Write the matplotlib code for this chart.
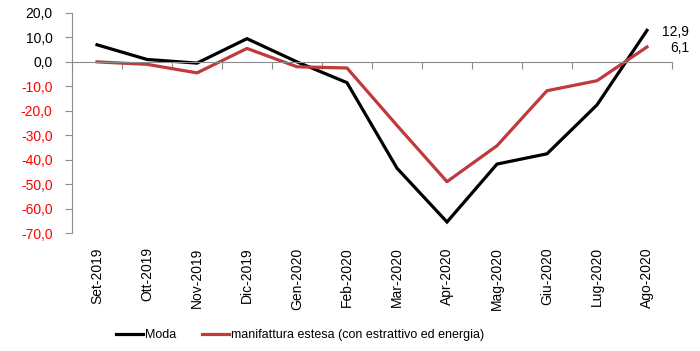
import matplotlib.pyplot as plt
from matplotlib.transforms import blended_transform_factory

plt.rcParams['font.family'] = ['Liberation Sans', 'DejaVu Sans']

mesi = ['Set-2019', 'Ott-2019', 'Nov-2019', 'Dic-2019', 'Gen-2020', 'Feb-2020',
        'Mar-2020', 'Apr-2020', 'Mag-2020', 'Giu-2020', 'Lug-2020', 'Ago-2020']
moda = [7.0, 1.0, -0.5, 9.5, 0.0, -8.5, -43.5, -65.5, -41.8, -37.6, -17.6, 12.9]
manifattura = [0.0, -1.0, -4.5, 5.5, -2.0, -2.5, -26.0, -49.0, -34.3, -11.8, -7.7, 6.1]
yticks = [20, 10, 0, -10, -20, -30, -40, -50, -60, -70]

fig = plt.figure(figsize=(7, 3.51), dpi=100)
ax = fig.add_axes([72 / 700, 1 - 233 / 351, 600 / 700, 220 / 351])

x = list(range(len(mesi)))
ax.plot(x, moda, color='black', lw=2.3, label='Moda', solid_joinstyle='miter')
ax.plot(x, manifattura, color='#C0393B', lw=2.3,
        label='manifattura estesa (con estrattivo ed energia)')

ax.set_xlim(-0.5, len(mesi) - 0.5)
ax.set_ylim(-70, 20)

grey = '#8c8c8c'
for s in ['top', 'right']:
    ax.spines[s].set_visible(False)
ax.spines['left'].set_color(grey)
ax.spines['bottom'].set_color(grey)
ax.spines['bottom'].set_position(('data', 0))

ax.set_yticks(yticks)
ax.set_yticklabels([f'{v:.1f}'.replace('.', ',') for v in yticks], fontsize=10)
for lab, v in zip(ax.get_yticklabels(), yticks):
    lab.set_color('red' if v < 0 else 'black')
ax.tick_params(axis='y', direction='out', length=5, color=grey, pad=9)

ax.set_xticks([i - 0.5 for i in range(len(mesi) + 1)])
ax.set_xticklabels([])
ax.tick_params(axis='x', direction='out', length=5, color=grey)

trans = blended_transform_factory(ax.transData, ax.transAxes)
for i, m in enumerate(mesi):
    ax.text(i, -0.065, m, rotation=90, ha='center', va='top', fontsize=10,
            transform=trans)

ax.annotate('12,9', (x[-1], moda[-1]), xytext=(42, -2), textcoords='offset pixels',
            ha='right', va='center', fontsize=10)
ax.annotate('6,1', (x[-1], manifattura[-1]), xytext=(42, -1), textcoords='offset pixels',
            ha='right', va='center', fontsize=10)

fig.legend(loc='center', bbox_to_anchor=(300 / 700, 1 - 335 / 351), ncol=2,
           frameon=False, fontsize=9, handlelength=2.2, handletextpad=0.15,
           columnspacing=2.0)

fig.savefig('out.png', dpi=100)
